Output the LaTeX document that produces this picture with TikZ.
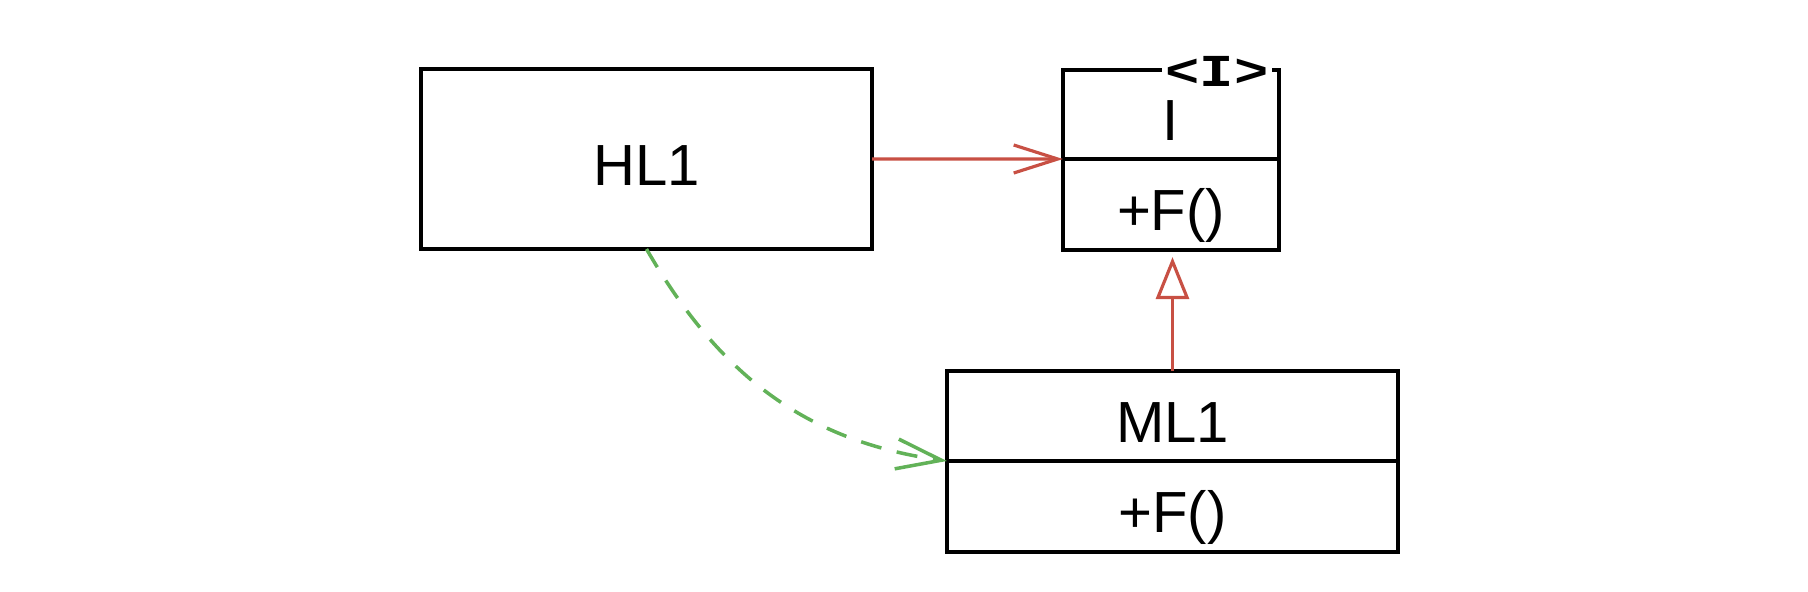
\documentclass[tikz,border=0pt]{standalone}
\usepackage{fontspec}
\setmainfont{Liberation Sans}
\newfontfamily\stereofont{Liberation Mono}
\usetikzlibrary{positioning,arrows.meta}
\definecolor{assocred}{RGB}{200,80,68}
\definecolor{depgreen}{RGB}{98,178,88}
\tikzset{
    classbox/.style={draw=black, line width=1.1pt, inner sep=0pt, outer sep=0pt, text height=0.52cm, text depth=0pt, font=\fontsize{16.5}{19}\selectfont},
    assoc/.style={draw=assocred, line width=0.9pt, -{Straight Barb[length=4.4mm, width=2.8mm, line width=0.9pt]}},
    realize/.style={draw=assocred, line width=0.9pt, shorten >=2pt, -{Triangle[open, length=4.2mm, width=3.3mm, line width=0.9pt]}},
    depends/.style={draw=depgreen, line width=1pt, dash pattern=on 6pt off 4.5pt, -{Straight Barb[length=4.5mm, width=3mm, line width=1pt]}}
}
\begin{document}
\begin{tikzpicture}[x=0.01cm, y=0.01cm]
        \useasboundingbox[fill=white] (0,0) rectangle (1808,-592);

        % high level module
        \node[classbox, minimum width=4.51cm, minimum height=1.80cm] (hl1) at (646.5,-159) {HL1};

        % interface I
        \node[classbox, minimum width=2.16cm, minimum height=0.89cm] (iname) at (1171,-114.5) {I};
        \node[classbox, minimum width=2.16cm, minimum height=0.91cm, below=0pt of iname] (iops) {+F()};
        \node[fill=white, inner sep=1pt, font=\stereofont\bfseries\fontsize{13}{15}\selectfont] (istereo) at (1217,-71) {\scalebox{1.25}[1]{<I>}};

        % middle level module
        \node[classbox, minimum width=4.51cm, minimum height=0.90cm] (ml1) at (1172.5,-416) {ML1};
        \node[classbox, minimum width=4.51cm, minimum height=0.91cm, below=0pt of ml1] (ml1ops) {+F()};

        \draw[assoc] (hl1.east) -- (iname.south west);
        \draw[realize] (ml1.north) -- (ml1.north |- iops.south);
        \draw[depends] (hl1.south) to[out=-60, in=172] (ml1.south west);

    \end{tikzpicture}
\end{document}
